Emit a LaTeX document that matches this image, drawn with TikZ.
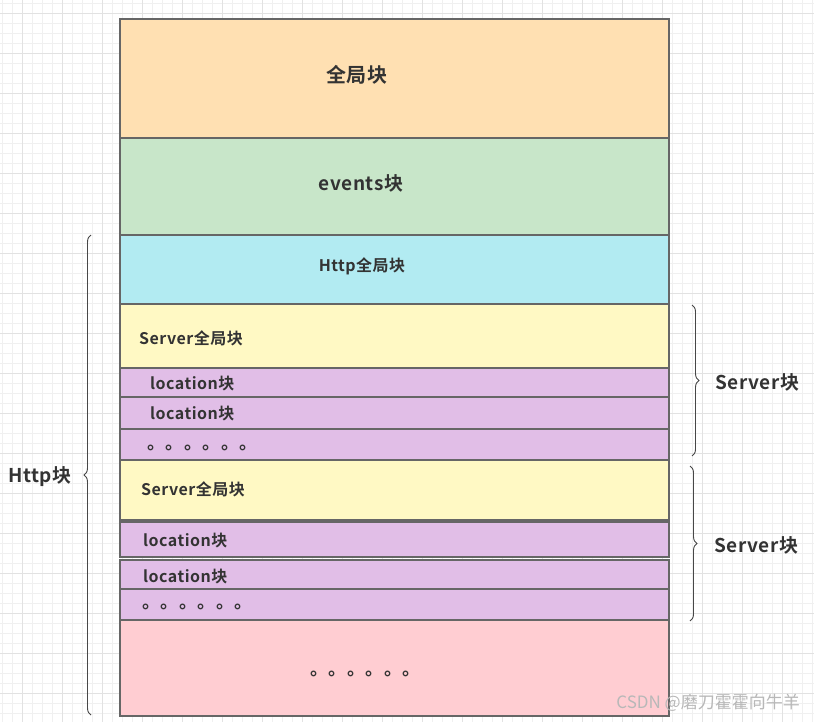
\documentclass[tikz,border=0pt]{standalone}
\usepackage{fontspec}
\setmainfont{Noto Sans CJK SC}[BoldFont={* Bold}]
\usetikzlibrary{decorations.pathreplacing}
\definecolor{gminor}{HTML}{F0F0F0}
\definecolor{gmajor}{HTML}{E2E2E2}
\definecolor{edge}{HTML}{666666}
\definecolor{txt}{HTML}{333333}
\definecolor{cOrange}{HTML}{FFE0B2}
\definecolor{cGreen}{HTML}{C8E6C9}
\definecolor{cCyan}{HTML}{B2EBF2}
\definecolor{cYellow}{HTML}{FFF9C4}
\definecolor{cPurple}{HTML}{E1BEE7}
\definecolor{cPink}{HTML}{FFCDD2}
\begin{document}
\begin{tikzpicture}[x=1pt,y=-1pt,
  blk/.style={draw=edge,line width=1.3pt},
  lbl/.style={text=txt,font=\bfseries\addfontfeature{LetterSpace=3}\fontsize{#1}{#1}\selectfont,inner sep=0pt},
  lbl/.default=15,
  brc/.style={draw=txt!90,line width=0.9pt,decorate,decoration={brace,amplitude=7pt}}]
\useasboundingbox (0,0) rectangle (814,722);
\fill[white] (0,0) rectangle (814,722);
% grid
\foreach \i in {0,...,81}{
  \draw[gminor,line width=0.8pt] ({2.7+10*\i},0) -- ({2.7+10*\i},722);}
\foreach \i in {0,...,72}{
  \draw[gminor,line width=0.8pt] (0,{3+10*\i}) -- (814,{3+10*\i});}
\foreach \i in {0,...,20}{
  \draw[gmajor,line width=0.8pt] ({22.7+40*\i},0) -- ({22.7+40*\i},722);}
\foreach \i in {0,...,18}{
  \draw[gmajor,line width=0.8pt] (0,{13+40*\i}) -- (814,{13+40*\i});}
% blocks
\draw[blk,fill=cOrange] (120,19) rectangle (669,138);
\draw[blk,fill=cGreen] (120,138) rectangle (669,235);
\draw[blk,fill=cCyan] (120,235) rectangle (669,304);
\draw[blk,fill=cYellow] (120,304) rectangle (669,368);
\draw[blk,fill=cPurple] (120,368) rectangle (669,397);
\draw[blk,fill=cPurple] (120,397) rectangle (669,429);
\draw[blk,fill=cPurple] (120,429) rectangle (669,460);
\draw[blk,fill=cYellow] (120,460) rectangle (669,520);
\draw[blk,fill=cPurple] (120,522) rectangle (669,557);
\draw[blk,fill=cPurple] (120,560) rectangle (669,589);
\draw[blk,fill=cPurple] (120,589) rectangle (669,620);
\draw[blk,fill=cPink] (120,620) rectangle (669,716);
% texts
\node[lbl=20] (g) at (357,75) {全局块};
\node[lbl=19] (ev) at (361,183) {events块};
\node[lbl=16] (hg) at (362,266) {Http全局块};
\node[lbl=16,anchor=west] (s1) at (139,338) {Server全局块};
\node[lbl=16,anchor=west] (l1) at (150,384) {location块};
\node[lbl=16,anchor=west] (l2) at (150,414) {location块};
\node[lbl=18,anchor=west] (d1) at (147,448) {。。。。。。};
\node[lbl=16,anchor=west] (s2) at (141,489) {Server全局块};
\node[lbl=16,anchor=west] (l3) at (143,541) {location块};
\node[lbl=16,anchor=west] (l4) at (143,577) {location块};
\node[lbl=18,anchor=west] (d2) at (142,607) {。。。。。。};
\node[lbl=18,anchor=west] (d3) at (310,674) {。。。。。。};
% braces
\coordinate (hb1) at (91,715);
\coordinate (hb2) at (91,235);
\draw[brc] (hb1) -- (hb2);
\node[lbl=19,anchor=west] (http) at (8,477) {Http块};
\coordinate (sa1) at (692,305);
\coordinate (sa2) at (692,456);
\draw[brc] (sa1) -- (sa2);
\node[lbl=19,anchor=west] (sv1) at (715,382) {Server块};
\coordinate (sb1) at (690,466);
\coordinate (sb2) at (690,621);
\draw[brc] (sb1) -- (sb2);
\node[lbl=19,anchor=west] (sv2) at (714,545) {Server块};
% watermark
\node[text=white!72!black,font=\fontsize{17}{17}\selectfont,inner sep=0pt,anchor=east] (wm) at (800,703) {CSDN @磨刀霍霍向牛羊};
\end{tikzpicture}
\end{document}
